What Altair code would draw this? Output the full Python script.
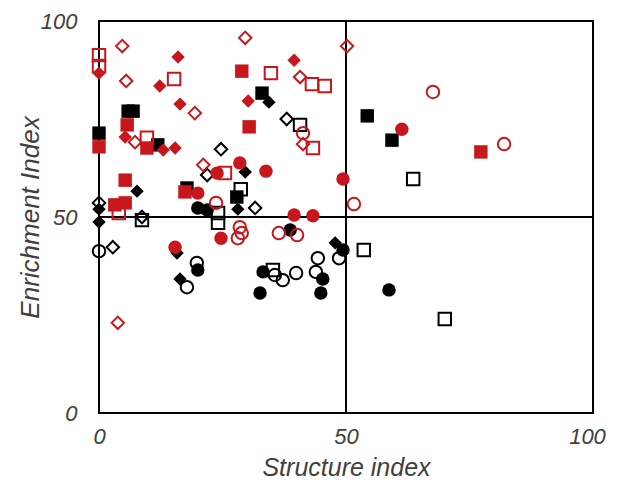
import altair as alt
import pandas as pd

# ---- data (Structure index, Enrichment index) per marker group ----
bos_x = [8.7, 24.1, 24.1, 28.7, 40.7, 35.2, 53.6, 63.6, 70.0]
bos_y = [49.2, 51.0, 48.5, 57.1, 73.5, 36.5, 41.6, 59.7, 24.0]

bod_x = [0.0, 8.7, 21.9, 24.7, 31.6, 38.0, 2.8]
bod_y = [53.6, 50.0, 60.7, 67.3, 52.3, 75.0, 42.3]

boc_x = [0.0, 19.8, 17.8, 35.6, 37.2, 39.9, 44.3, 43.9, 48.6]
boc_y = [41.3, 38.3, 32.1, 35.2, 33.9, 35.7, 39.5, 36.0, 39.5]

bfs_x = [5.9, 6.9, 0.0, 11.9, 17.8, 27.9, 33.0, 54.3, 59.3]
bfs_y = [77.0, 77.0, 71.4, 68.4, 57.4, 55.1, 81.6, 75.8, 69.6]

bfd_x = [0.0, 0.0, 7.7, 34.4, 29.6, 28.1, 47.8, 15.8, 16.4]
bfd_y = [52.0, 48.7, 56.6, 79.3, 61.5, 52.0, 43.4, 40.8, 34.2]

bfc_x = [20.0, 21.9, 20.0, 38.7, 49.4, 33.2, 32.6, 45.3, 44.9, 58.7]
bfc_y = [52.3, 51.8, 36.5, 46.7, 41.6, 36.0, 30.6, 34.2, 30.6, 31.4]

ros_x = [0.0, 0.0, 15.2, 9.7, 4.0, 25.5, 34.8, 43.1, 45.7, 43.3]
ros_y = [91.3, 88.5, 85.2, 70.2, 51.0, 61.2, 86.7, 83.9, 83.4, 67.6]

rod_x = [4.7, 5.5, 19.4, 7.3, 21.1, 29.6, 50.2, 40.7, 41.3, 3.8]
rod_y = [93.6, 84.7, 76.5, 69.1, 63.3, 95.7, 93.6, 85.7, 68.6, 23.0]

roc_x = [23.7, 51.6, 41.3, 36.4, 40.1, 28.5, 28.9, 28.1, 67.6, 82.0]
roc_y = [53.6, 53.3, 71.4, 45.9, 45.4, 47.4, 45.9, 44.6, 81.9, 68.6]

rfs_x = [5.7, 0.0, 9.7, 5.3, 3.2, 5.3, 17.4, 28.9, 30.4, 77.3]
rfs_y = [73.5, 67.9, 67.6, 59.4, 53.1, 53.6, 56.4, 87.2, 73.0, 66.6]

rfd_x = [0.0, 16.0, 12.3, 16.4, 5.3, 13.0, 15.4, 39.5, 30.2]
rfd_y = [86.7, 90.8, 83.4, 78.8, 70.4, 67.1, 67.6, 90.0, 79.6]

rfc_x = [23.9, 20.0, 28.5, 33.8, 49.4, 39.5, 43.3, 24.7, 15.4, 61.3]
rfc_y = [61.2, 56.1, 63.8, 61.7, 59.7, 50.5, 50.3, 44.6, 42.3, 72.4]

x_ticks = [0, 50, 100]
y_ticks = [0, 50, 100]

RED = "#C8161D"
BLACK = "#000000"

groups = [
    ("bos", bos_x, bos_y, "square", BLACK, False),
    ("bod", bod_x, bod_y, "diamond", BLACK, False),
    ("boc", boc_x, boc_y, "circle", BLACK, False),
    ("bfs", bfs_x, bfs_y, "square", BLACK, True),
    ("bfd", bfd_x, bfd_y, "diamond", BLACK, True),
    ("bfc", bfc_x, bfc_y, "circle", BLACK, True),
    ("ros", ros_x, ros_y, "square", RED, False),
    ("rod", rod_x, rod_y, "diamond", RED, False),
    ("roc", roc_x, roc_y, "circle", RED, False),
    ("rfs", rfs_x, rfs_y, "square", RED, True),
    ("rfd", rfd_x, rfd_y, "diamond", RED, True),
    ("rfc", rfc_x, rfc_y, "circle", RED, True),
]

FONT = "Liberation Sans"

xscale = alt.Scale(domain=[0, 100], nice=False, zero=False)
yscale = alt.Scale(domain=[0, 100], nice=False, zero=False)

xaxis = alt.Axis(values=x_ticks, grid=False, ticks=False, domain=False,
                 labelFlush=False,
                 labelOffset={"condition": {"test": "datum.value == 100",
                                            "value": -6},
                              "value": 0},
                 labelFont=FONT, labelFontSize=22, labelFontStyle="italic",
                 labelColor="#404040", labelPadding=13,
                 title="Structure index", titleFont=FONT, titleFontSize=25,
                 titleFontStyle="italic", titleFontWeight="normal",
                 titleColor="#404040", titleX=247, titleY=54,
                 titleBaseline="middle", titleAlign="center")
yaxis = alt.Axis(values=y_ticks, grid=False, ticks=False, domain=False,
                 labelFlush=False,
                 labelFont=FONT, labelFontSize=22, labelFontStyle="italic",
                 labelColor="#404040", labelPadding=22,
                 title="Enrichment Index", titleFont=FONT, titleFontSize=26,
                 titleFontStyle="italic", titleFontWeight="normal",
                 titleColor="#404040", titleX=-69, titleY=196,
                 titleAngle=270, titleBaseline="middle", titleAlign="center")

layers = []
rule_v = alt.Chart(pd.DataFrame({"v": [50]})).mark_rule(
    color="black", strokeWidth=2).encode(
    x=alt.X("v:Q", scale=xscale, axis=xaxis))
rule_h = alt.Chart(pd.DataFrame({"v": [50]})).mark_rule(
    color="black", strokeWidth=2).encode(
    y=alt.Y("v:Q", scale=yscale, axis=yaxis))
layers.extend([rule_v, rule_h])

for name, xs, ys, shp, col, filled in groups:
    df = pd.DataFrame({"x": xs, "y": ys})
    if filled:
        mark = alt.Chart(df).mark_point(shape=shp, filled=True, fill=col,
                                        color=col, opacity=1, size=180,
                                        strokeWidth=0)
    else:
        mark = alt.Chart(df).mark_point(shape=shp, filled=False, stroke=col,
                                        fill="white", fillOpacity=0,
                                        opacity=1, size=155, strokeWidth=2)
    layers.append(mark.encode(
        x=alt.X("x:Q", scale=xscale, axis=xaxis),
        y=alt.Y("y:Q", scale=yscale, axis=yaxis)))

chart = alt.layer(*layers).properties(
    width=494, height=392,
    padding={"left": 91, "top": 13, "right": 16, "bottom": 72},
    autosize=alt.AutoSizeParams(type="none"),
    background="white",
).configure_view(stroke="black", strokeWidth=2)

chart.save("out.html", embed_options={"renderer": "svg", "actions": False})
